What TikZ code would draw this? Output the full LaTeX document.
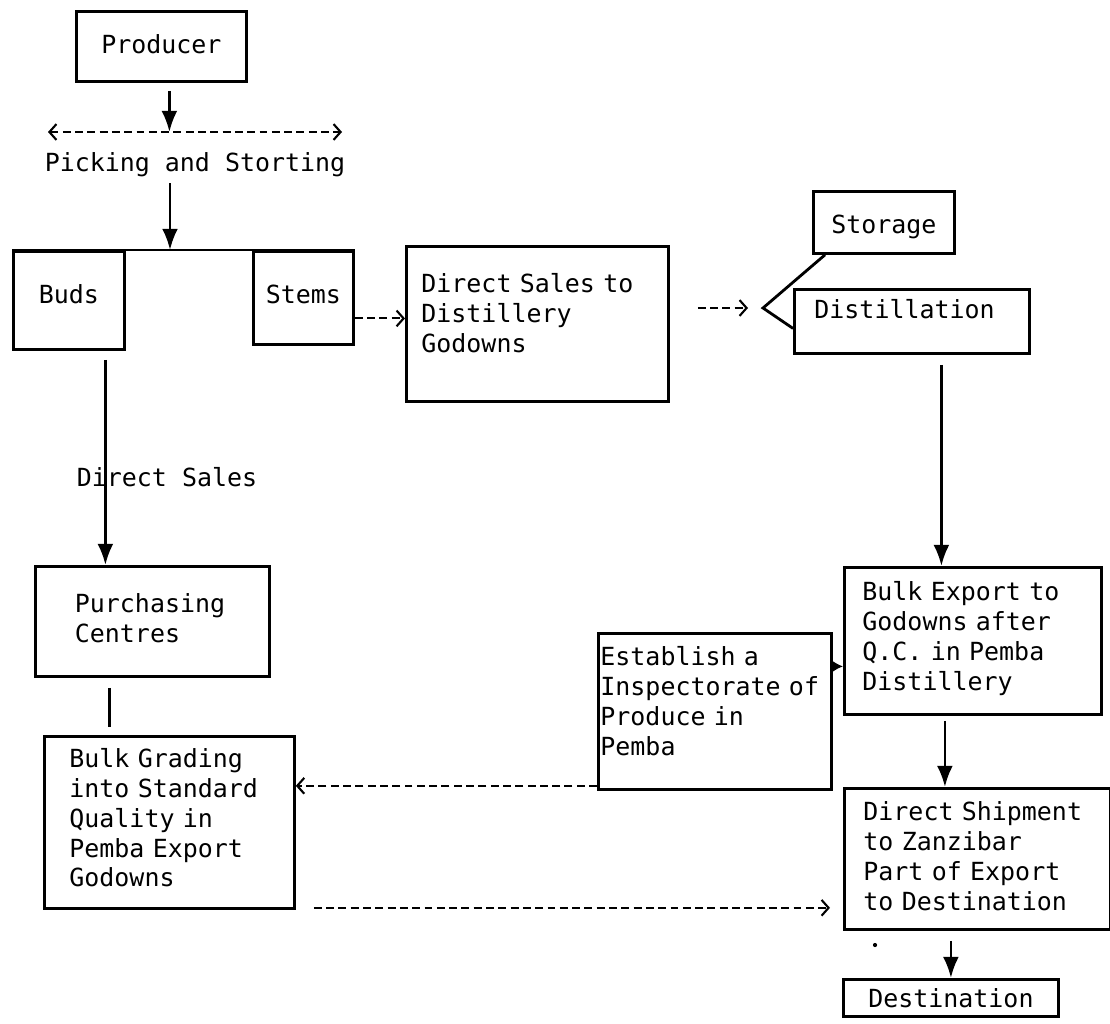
\documentclass[tikz,border=0pt]{standalone}
\usepackage{fontspec}
\usepackage{tikz}
\usetikzlibrary{arrows.meta}
\newfontfamily\chartfont{DejaVu Sans Mono}
\DeclareRobustCommand\boxfont{\chartfont\fontsize{14.2pt}{17pt}\selectfont\spaceskip=\fontdimen2\font\relax}

\begin{document}
\begin{tikzpicture}[font=\boxfont,
  >={Straight Barb[length=4pt,width=9pt]},
  box/.style={draw,line width=1.6pt,anchor=north west,inner ysep=0pt},
  arr/.style={line width=1.6pt,-{Latex[length=12pt,width=9pt]}},
  dsh/.style={line width=1.2pt,dash pattern=on 4.5pt off 2.5pt,->},
  ln/.style={line width=1.6pt}]
  \useasboundingbox (0,0) rectangle (22.2,-20.46);
  \node[box,align=center,text width=3cm,inner xsep=0.2cm,text height=0.84cm,text depth=0.56cm] (producer) at (1.5,-0.2) {Producer};
  \coordinate (pickL) at (0.96,-2.64);
  \coordinate (pickR) at (6.84,-2.64);
  \node (picking) at (3.90,-3.30) {Picking and Storting};
  \node[box,align=center,text width=1.82cm,inner xsep=0.2cm,text height=1.04cm,text depth=0.92cm] (buds) at (0.24,-5.00) {Buds};
  \node[box,align=center,text width=1.6cm,inner xsep=0.2cm,text height=1.04cm,text depth=0.82cm] (stems) at (5.04,-5.00) {Stems};
  \node[box,align=left,text width=4.64cm,inner xsep=0.3cm,text height=0.92cm,text depth=2.18cm] (dsales) at (8.10,-4.90) {Direct Sales to\\Distillery\\Godowns};
  \node[box,align=center,text width=2.42cm,inner xsep=0.2cm,text height=0.84cm,text depth=0.40cm] (storage) at (16.24,-3.80) {Storage};
  \node[box,align=left,text width=3.9cm,inner xsep=0.4cm,text height=0.58cm,text depth=0.70cm] (distill) at (15.86,-5.76) {Distillation};
  \coordinate (fork) at (15.26,-6.16);
  \node (dsl) at (3.34,-9.54) {Direct Sales};
  \node[box,align=left,text width=3.1cm,inner xsep=0.79cm,text height=0.92cm,text depth=1.28cm] (purch) at (0.68,-11.30) {Purchasing\\Centres};
  \node[box,align=left,text width=4.0cm,inner xsep=0.5cm,text height=0.62cm,text depth=2.82cm] (bgrade) at (0.86,-14.70) {Bulk Grading\\into Standard\\Quality in\\Pemba Export\\Godowns};
  \node[box,align=left,text width=4.58cm,inner xsep=0.04cm,text height=0.64cm,text depth=2.48cm] (inspect) at (11.94,-12.64) {Establish a\\Inspectorate of\\Produce in\\Pemba};
  \node[box,align=left,text width=4.42cm,inner xsep=0.36cm,text height=0.66cm,text depth=2.28cm] (bexport) at (16.86,-11.32) {Bulk Export to\\Godowns after\\Q.C. in Pemba\\Distillery};
  \node[box,align=left,text width=4.56cm,inner xsep=0.38cm,text height=0.64cm,text depth=2.18cm] (dship) at (16.86,-15.74) {Direct Shipment\\to Zanzibar\\Part of Export\\to Destination};
  \node[box,align=center,text width=3.5cm,inner xsep=0.4cm,text height=0.56cm,text depth=0.18cm] (dest) at (16.84,-19.56) {Destination};

  \draw[dsh,<->] (pickL) -- (pickR);
  \draw[arr,shorten <=0.16cm] ([xshift=0.16cm]producer.south) -- ([xshift=0.16cm]producer.south |- pickL);
  \draw[arr] ([xshift=-0.5cm]picking.south) -- ([xshift=-0.5cm]picking.south |- buds.north);
  \draw[ln] (buds.north west) -- (stems.north east);
  \draw[arr,shorten <=0.18cm] ([xshift=0.73cm]buds.south) -- ([xshift=0.73cm]buds.south |- purch.north);
  \draw[ln,shorten <=0.2cm,shorten >=0.16cm] ([xshift=-0.86cm]purch.south) -- ([xshift=-0.86cm]purch.south |- bgrade.north);
  \draw[dsh] ([yshift=-0.41cm]stems.east) -- ([yshift=-0.41cm]stems.east -| dsales.west);
  \draw[dsh,shorten <=0.56cm,shorten >=0.3cm] (dsales.east |- fork) -- (fork);
  \draw[ln] ([xshift=0.26cm]storage.south west) -- (fork) -- ([yshift=-0.14cm]distill.west);
  \draw[arr,shorten <=0.2cm] ([xshift=0.59cm]distill.south) -- ([xshift=0.59cm]distill.south |- bexport.north);
  \draw[line width=1.6pt,-{Latex[length=7pt,width=8pt]}] ([yshift=0.9cm]inspect.east) -- ([yshift=0.9cm]inspect.east -| bexport.west);
  \draw[dsh] ([yshift=0.1cm]inspect.south west) -- ([yshift=0.1cm]inspect.south west -| bgrade.east);
  \draw[dsh,shorten <=0.36cm,shorten >=0.26cm] ([yshift=0.04cm]bgrade.south east) -- ([yshift=0.04cm]bgrade.south east -| dship.west);
  \draw[arr,shorten <=0.1cm] ([xshift=-0.56cm]bexport.south) -- ([xshift=-0.56cm]bexport.south |- dship.north);
  \draw[arr,shorten <=0.2cm] (dest.north |- dship.south) -- (dest.north);
  \fill (17.50,-18.90) circle (1.2pt);
\end{tikzpicture}
\end{document}
